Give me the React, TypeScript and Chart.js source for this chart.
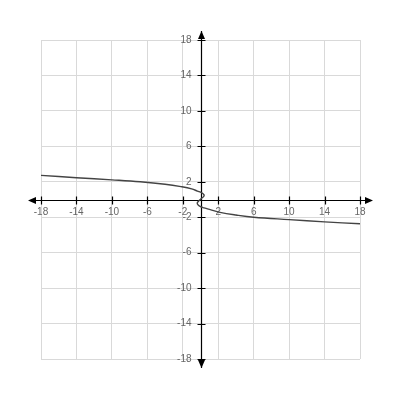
import React, { useEffect, useRef } from "react";
import { Chart, registerables } from "chart.js";

Chart.register(...registerables);

// Tick values shown on both axes
const TICKS = [-18, -14, -10, -6, -2, 2, 6, 10, 14, 18];

// Curve points, ordered from top-left to bottom-right
const CURVE_X = [-18, -14, -10, -6.8, -4, -2.2, -1.0, -0.35, 0.15, 0.4, 0.35, 0.1, -0.15, -0.35, -0.32, -0.05, 0.4, 1.1, 2.2, 4, 6, 10, 14, 18];
const CURVE_Y = [2.72, 2.46, 2.22, 2.0, 1.72, 1.45, 1.2, 0.95, 0.75, 0.52, 0.32, 0.12, -0.12, -0.35, -0.55, -0.78, -0.95, -1.15, -1.45, -1.75, -2.0, -2.27, -2.52, -2.74];

const axesPlugin = {
  id: "centerAxes",
  beforeDatasetsDraw(chart: any) {
    const { ctx, chartArea, scales } = chart;
    const xs = scales.x;
    const ys = scales.y;
    const x0 = Math.round(xs.getPixelForValue(0)) + 0.5;
    const y0 = Math.round(ys.getPixelForValue(0)) + 0.5;
    const ext = 9;
    ctx.save();
    ctx.strokeStyle = "#000";
    ctx.fillStyle = "#000";
    ctx.lineWidth = 1.2;
    ctx.beginPath();
    ctx.moveTo(chartArea.left - ext, y0);
    ctx.lineTo(chartArea.right + ext, y0);
    ctx.moveTo(x0, chartArea.top - ext);
    ctx.lineTo(x0, chartArea.bottom + ext);
    xs.ticks.forEach((t: any) => {
      const px = Math.round(xs.getPixelForValue(t.value)) + 0.5;
      ctx.moveTo(px, y0 - 4);
      ctx.lineTo(px, y0 + 4);
    });
    ys.ticks.forEach((t: any) => {
      const py = Math.round(ys.getPixelForValue(t.value)) + 0.5;
      ctx.moveTo(x0 - 4, py);
      ctx.lineTo(x0 + 4, py);
    });
    ctx.stroke();
    const a = 8;
    const w = 3.5;
    ctx.beginPath();
    ctx.moveTo(chartArea.left - ext - 4, y0);
    ctx.lineTo(chartArea.left - ext - 4 + a, y0 - w);
    ctx.lineTo(chartArea.left - ext - 4 + a, y0 + w);
    ctx.closePath();
    ctx.moveTo(chartArea.right + ext + 4, y0);
    ctx.lineTo(chartArea.right + ext + 4 - a, y0 - w);
    ctx.lineTo(chartArea.right + ext + 4 - a, y0 + w);
    ctx.closePath();
    ctx.moveTo(x0, chartArea.top - ext);
    ctx.lineTo(x0 - w, chartArea.top - ext + a);
    ctx.lineTo(x0 + w, chartArea.top - ext + a);
    ctx.closePath();
    ctx.moveTo(x0, chartArea.bottom + ext);
    ctx.lineTo(x0 - w, chartArea.bottom + ext - a);
    ctx.lineTo(x0 + w, chartArea.bottom + ext - a);
    ctx.closePath();
    ctx.fill();
    ctx.restore();
  },
};

export default function App() {
  const ref = useRef<HTMLCanvasElement | null>(null);
  useEffect(() => {
    if (!ref.current) return;
    const points = CURVE_X.map((x, i) => ({ x, y: CURVE_Y[i] }));
    const setTicks = (scale: any) => {
      scale.ticks = TICKS.map((v) => ({ value: v }));
    };
    const font = { family: "'Liberation Sans', Arial, sans-serif", size: 10 };
    const chart = new Chart(ref.current, {
      type: "scatter",
      data: {
        datasets: [
          {
            data: points,
            showLine: true,
            pointRadius: 0,
            borderColor: "#444",
            borderWidth: 1.4,
            tension: 0.4,
            fill: false,
          },
        ],
      },
      options: {
        animation: false,
        responsive: false,
        layout: { padding: { left: 41, right: 40, top: 40, bottom: 41 } },
        plugins: { legend: { display: false }, tooltip: { enabled: false } },
        scales: {
          x: {
            type: "linear",
            min: -18,
            max: 18,
            position: "center",
            afterBuildTicks: setTicks,
            border: { display: false },
            grid: { color: "#d9d9d9", lineWidth: 1, drawTicks: false },
            ticks: { color: "#666", font, padding: 7, maxRotation: 0, autoSkip: false },
          },
          y: {
            type: "linear",
            min: -18,
            max: 18,
            position: "center",
            afterBuildTicks: setTicks,
            border: { display: false },
            grid: { color: "#d9d9d9", lineWidth: 1, drawTicks: false },
            ticks: { color: "#666", font, padding: 9, autoSkip: false },
          },
        },
      },
      plugins: [axesPlugin],
    });
    return () => chart.destroy();
  }, []);
  return (
    <div style={{ position: "absolute", left: 0, top: 0, width: 400, height: 400, background: "#fff" }}>
      <canvas ref={ref} width={400} height={400} style={{ width: 400, height: 400 }} />
    </div>
  );
}
